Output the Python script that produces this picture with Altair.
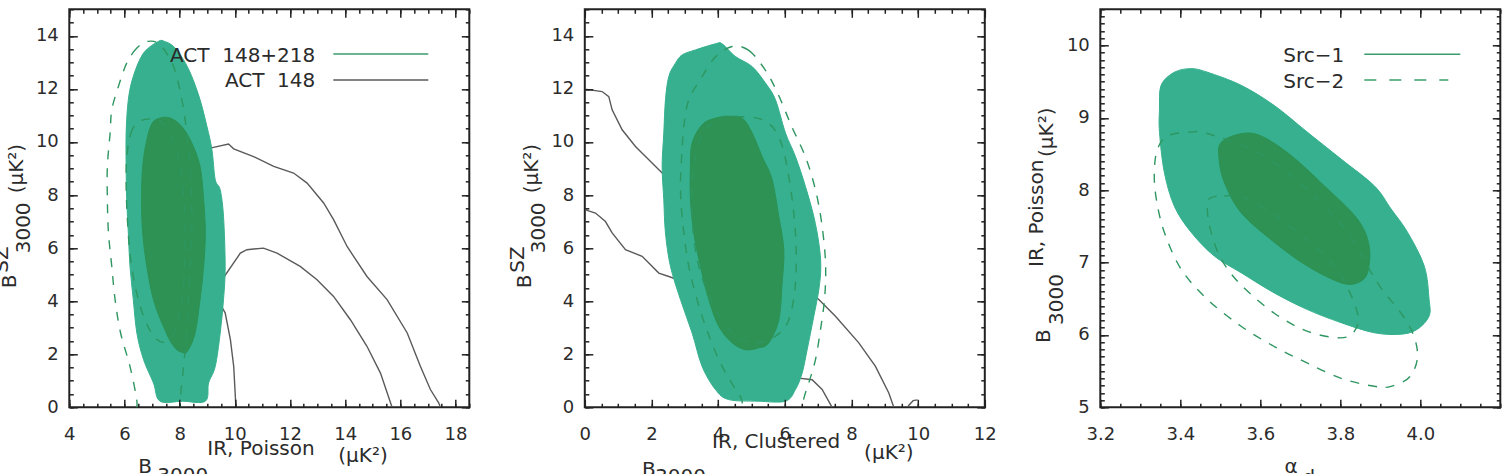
import altair as alt
import pandas as pd

FONT = "DejaVu Sans"
INK = "#222222"
TXT = "#2b2b2b"
LIGHT = "#36b08e"
DARK = "#2d9254"
DASHC = "#2e9660"
GREEN_LINE = "#3a9e6c"
GRAY = "#5a5a5a"

W, H = 400, 398

# ---------------- Panel 1 : B_SZ vs B_IR,Poisson ----------------
P1_XDOM = [4, 18.5]
P1_YDOM = [0, 15]
P1_XTICKS = [4, 6, 8, 10, 12, 14, 16, 18]
P1_YTICKS = [0, 2, 4, 6, 8, 10, 12, 14]

P1_FILL95_X = [7.23, 6.69, 6.32, 6.14, 6.06, 6.06, 6.08, 6.14, 6.20, 6.32, 6.45, 6.69, 7.05, 7.29, 8.10, 8.93,
               9.05, 9.29, 9.47, 9.59, 9.65, 9.59, 9.47, 9.29, 9.17, 8.99, 8.74, 8.44, 8.14, 7.78, 7.45]
P1_FILL95_Y = [13.79, 13.35, 12.47, 11.59, 10.34, 9.08, 7.82, 6.57, 5.31, 4.06, 2.80, 1.80, 0.92, 0.23, 0.23, 0.23,
               0.92, 1.54, 2.80, 4.06, 5.31, 7.19, 8.20, 8.58, 9.71, 10.58, 11.59, 12.47, 13.10, 13.60, 13.79]
P1_FILL68_X = [7.29, 7.00, 6.81, 6.66, 6.62, 6.66, 6.81, 7.05, 7.41, 7.78, 8.14, 8.32, 8.56, 8.74, 8.87, 8.93,
               8.87, 8.74, 8.44, 8.08, 7.66]
P1_FILL68_Y = [10.90, 10.70, 10.08, 9.08, 7.82, 6.57, 5.31, 4.06, 3.05, 2.30, 2.05, 2.18, 2.80, 4.06, 5.31, 6.57,
               7.82, 9.08, 9.96, 10.58, 10.90]
P1_DASH95_X = [6.85, 6.45, 6.08, 5.78, 5.54, 5.48, 5.38, 5.38, 5.42, 5.54, 5.66, 5.86, 6.20, 6.45, 6.50, 8.00,
               8.02, 8.14, 8.26, 8.32, 8.38, 8.44, 8.44, 8.38, 8.26, 8.08, 7.78, 7.29]
P1_DASH95_Y = [13.79, 13.54, 12.97, 12.09, 11.21, 10.34, 9.08, 7.82, 6.57, 5.31, 4.06, 2.80, 1.54, 0.23, -0.80, -0.80,
               0.23, 1.54, 2.80, 4.06, 5.31, 6.57, 7.82, 9.08, 10.34, 11.59, 12.84, 13.66]
P1_DASH68_X = [6.75, 6.30, 6.10, 6.06, 6.10, 6.20, 6.40, 6.70, 7.05, 7.40, 7.75, 8.00, 8.15, 8.20, 8.12, 7.90, 7.40]
P1_DASH68_Y = [10.85, 10.50, 9.60, 8.50, 7.20, 5.80, 4.50, 3.40, 2.70, 2.45, 2.70, 3.50, 4.80, 6.50, 8.20, 9.70, 10.70]
P1_ACT148_OUT_X = [8.60, 9.11, 9.77, 9.96, 10.68, 11.41, 12.13, 12.62, 13.22, 13.58, 14.07, 14.79, 15.52, 16.25,
                   16.73, 17.09, 17.39, 17.45]
P1_ACT148_OUT_Y = [9.80, 9.77, 9.92, 9.74, 9.45, 9.08, 8.83, 8.45, 7.70, 7.07, 6.06, 4.93, 4.06, 2.80,
                   1.54, 0.67, 0.17, 0.0]
P1_ACT148_IN_X = [10.04, 9.96, 9.84, 9.65, 9.35, 9.30, 9.62, 10.20, 10.44, 11.04, 11.53, 12.37, 12.98, 13.58,
                  14.19, 14.79, 15.28, 15.70]
P1_ACT148_IN_Y = [0.0, 1.54, 2.55, 3.56, 4.10, 4.60, 4.93, 5.81, 5.94, 6.00, 5.81, 5.31, 4.81, 4.18,
                  3.30, 2.30, 1.29, 0.0]
P1_LEGEND = ["ACT\u00a0\u00a0148+218", "ACT\u00a0\u00a0148"]
P1_XTITLE = ["B", "3000", "IR, Poisson", "(\u03bcK\u00b2)"]
P1_YTITLE = ["B", "SZ", "3000", "(\u03bcK\u00b2)"]

# ---------------- Panel 2 : B_SZ vs B_IR,Clustered ----------------
P2_XDOM = [0, 12]
P2_YDOM = [0, 15]
P2_XTICKS = [0, 2, 4, 6, 8, 10, 12]
P2_YTICKS = [0, 2, 4, 6, 8, 10, 12, 14]

P2_FILL95_X = [2.72, 2.92, 3.32, 3.92, 4.12, 4.52, 5.02, 5.42, 5.72, 6.02, 6.32, 6.62, 6.87, 7.02, 7.08, 7.02,
               6.87, 6.67, 6.52, 6.32, 6.02, 5.20, 4.32, 3.92, 3.52, 3.22, 2.87, 2.57, 2.42, 2.37, 2.32, 2.37,
               2.42, 2.52]
P2_FILL95_Y = [12.97, 13.28, 13.47, 13.70, 13.70, 13.22, 12.84, 12.22, 11.59, 10.34, 9.45, 8.32, 7.19, 6.19, 5.31,
               4.43, 3.43, 2.17, 1.29, 0.67, 0.23, 0.23, 0.29, 0.67, 1.54, 2.80, 4.06, 5.31, 6.57, 7.82, 9.08,
               10.34, 11.59, 12.47]
P2_FILL68_X = [3.92, 3.52, 3.22, 3.17, 3.17, 3.27, 3.47, 3.72, 4.02, 4.42, 4.82, 5.22, 5.52, 5.82, 5.92, 5.97,
               5.82, 5.62, 5.32, 5.02, 4.72, 4.32]
P2_FILL68_Y = [10.90, 10.65, 9.96, 9.08, 7.82, 6.57, 5.31, 4.06, 3.05, 2.43, 2.17, 2.24, 2.43, 3.30, 4.68, 5.94,
               7.19, 8.58, 9.45, 10.34, 10.90, 10.96]
P2_DASH95_X = [4.42, 4.92, 5.42, 5.80, 6.20, 6.60, 6.90, 7.10, 7.22, 7.20, 7.08, 6.92, 6.72, 6.55, 6.50, 4.75,
               4.72, 4.52, 4.02, 3.52, 3.12, 2.92, 2.87, 2.92, 2.97, 3.12, 3.52, 3.92]
P2_DASH95_Y = [13.60, 13.45, 12.70, 11.80, 10.60, 9.50, 8.30, 7.00, 5.50, 4.20, 3.00, 1.80, 0.92, 0.20, -0.80, -0.80,
               0.23, 0.67, 1.80, 3.43, 5.31, 7.19, 8.45, 9.71, 10.58, 11.59, 12.47, 13.20]
P2_DASH68_X = [4.02, 4.52, 5.32, 5.82, 6.12, 6.32, 6.32, 6.12, 5.72, 5.12, 4.52, 3.92, 3.42, 3.22, 3.27, 3.57]
P2_DASH68_Y = [10.90, 10.96, 10.84, 10.20, 8.70, 6.57, 4.68, 3.30, 2.68, 2.43, 2.68, 3.68, 5.31, 7.19, 9.08, 10.34]
P2_ACT148_A1_X = [0.0, 0.52, 0.72, 0.82, 1.12, 1.52, 1.92, 2.32, 2.60]
P2_ACT148_A1_Y = [11.99, 11.90, 11.71, 11.21, 10.46, 9.83, 9.33, 8.83, 8.60]
P2_ACT148_A2_X = [6.80, 7.02, 7.52, 8.22, 8.72, 9.12, 9.27]
P2_ACT148_A2_Y = [4.30, 4.06, 3.43, 2.43, 1.54, 0.54, 0.0]
P2_ACT148_B1_X = [0.0, 0.32, 0.62, 0.82, 1.22, 1.72, 1.92, 2.22, 2.52, 2.80]
P2_ACT148_B1_Y = [7.45, 7.32, 7.00, 6.57, 5.94, 5.69, 5.44, 5.06, 4.93, 4.80]
P2_ACT148_B2_X = [6.20, 6.42, 6.82, 7.12, 7.42]
P2_ACT148_B2_Y = [1.20, 1.10, 1.04, 0.67, 0.0]
P2_ACT148_C_X = [9.70, 9.85, 9.98]
P2_ACT148_C_Y = [0.05, 0.25, 0.28]
P2_XTITLE = ["B", "3000", "IR, Clustered", "(\u03bcK\u00b2)"]
P2_YTITLE = ["B", "SZ", "3000", "(\u03bcK\u00b2)"]

# ---------------- Panel 3 : B_IR,Poisson vs alpha_d ----------------
P3_XDOM = [3.2, 4.2]
P3_YDOM = [5, 10.5]
P3_XTICKS = [3.2, 3.4, 3.6, 3.8, 4.0]
P3_YTICKS = [5, 6, 7, 8, 9, 10]

P3_FILL95_X = [3.352, 3.385, 3.427, 3.468, 3.552, 3.635, 3.718, 3.802, 3.885, 3.927, 3.968, 4.010, 4.022, 4.022,
               3.993, 3.952, 3.885, 3.802, 3.718, 3.635, 3.552, 3.485, 3.427, 3.385, 3.360, 3.348, 3.348]
P3_FILL95_Y = [9.45, 9.63, 9.68, 9.63, 9.45, 9.17, 8.80, 8.43, 8.06, 7.74, 7.42, 6.95, 6.49, 6.26,
               6.08, 6.01, 6.03, 6.17, 6.35, 6.58, 6.86, 7.09, 7.42, 7.78, 8.25, 8.80, 9.12]
P3_FILL68_X = [3.502, 3.552, 3.602, 3.677, 3.760, 3.843, 3.872, 3.868, 3.843, 3.802, 3.718, 3.635, 3.552, 3.510, 3.497]
P3_FILL68_Y = [8.66, 8.78, 8.75, 8.48, 8.06, 7.60, 7.23, 6.86, 6.72, 6.72, 6.95, 7.28, 7.69, 8.11, 8.43]
P3_DASH95_X = [3.368, 3.420, 3.470, 3.600, 3.720, 3.820, 3.893, 3.968, 3.993, 3.975, 3.927, 3.885, 3.802, 3.718,
               3.635, 3.552, 3.468, 3.402, 3.360, 3.340, 3.335, 3.343]
P3_DASH95_Y = [8.75, 8.80, 8.78, 8.50, 8.00, 7.40, 6.72, 6.17, 5.75, 5.43, 5.29, 5.29, 5.40, 5.61,
               5.84, 6.12, 6.49, 6.91, 7.42, 7.88, 8.25, 8.57]
P3_DASH68_X = [3.472, 3.510, 3.560, 3.650, 3.740, 3.800, 3.843, 3.835, 3.800, 3.718, 3.635, 3.552, 3.502, 3.477, 3.468]
P3_DASH68_Y = [7.88, 7.92, 7.90, 7.60, 7.20, 6.84, 6.30, 6.05, 5.96, 6.05, 6.30, 6.69, 7.05, 7.42, 7.70]
P3_LEGEND = ["Src\u22121", "Src\u22122"]
P3_XTITLE = ["\u03b1", "d"]
P3_YTITLE = ["B", "3000", "IR, Poisson", "(\u03bcK\u00b2)"]


def steps(a, b, h):
    n = int(round((b - a) / h))
    return [round(a + k * h, 4) for k in range(n + 1)]


def frame(xs, ys):
    return pd.DataFrame({"x": xs, "y": ys, "i": list(range(len(xs)))})


def segments(*pairs):
    rows = []
    for k, (xs, ys) in enumerate(pairs):
        for j, (a, b) in enumerate(zip(xs, ys)):
            rows.append({"x": a, "y": b, "i": j, "seg": k})
    return pd.DataFrame(rows)


def text_layer(s, x, y, angle=0, size=20, align="left"):
    kw = dict(align=align, baseline="alphabetic", font=FONT, fontSize=size, color=TXT)
    if angle:
        kw["angle"] = angle
    return alt.Chart(pd.DataFrame({"t": [s]})).mark_text(**kw).encode(
        x=alt.value(x), y=alt.value(y), text=alt.Text("t:N"))


def legend_rule(x1, x2, y, color, dash=None):
    kw = dict(color=color, strokeWidth=1.6)
    if dash:
        kw["strokeDash"] = dash
    return alt.Chart(pd.DataFrame({"t": [0]})).mark_rule(**kw).encode(
        x=alt.value(x1), x2=alt.value(x2), y=alt.value(y))


def build_panel(xdom, ydom, xmaj, xmin, ymaj, ymin, xfmt, yfmt, data_layers, extra_layers, carrier):
    xsc = alt.Scale(domain=xdom, nice=False, zero=False)
    ysc = alt.Scale(domain=ydom, nice=False, zero=False)

    def enc(df, ax, ay):
        e = dict(x=alt.X("x:Q", scale=xsc, axis=ax), y=alt.Y("y:Q", scale=ysc, axis=ay),
                 order=alt.Order("i:Q"))
        if "seg" in df.columns:
            e["detail"] = alt.Detail("seg:N")
        return e

    lab_x = alt.Axis(orient="bottom", values=xmaj, format=xfmt, ticks=False, tickSize=0, domain=False,
                     grid=False, labelFont=FONT, labelFontSize=18, labelColor=TXT, labelPadding=18,
                     labelFlush=False, labelOverlap=False, title=None)
    lab_y = alt.Axis(orient="left", values=ymaj, format=yfmt, ticks=False, tickSize=0, domain=False,
                     grid=False, labelFont=FONT, labelFontSize=18, labelColor=TXT, labelPadding=11,
                     labelOverlap=False, title=None)

    def tick_axis(orient, vals, length):
        return alt.Axis(orient=orient, values=vals, offset=-length, tickSize=length, ticks=True,
                        labels=False, domain=False, grid=False, tickColor=INK, tickWidth=1.5,
                        title=None, zindex=2)

    axis_sets = [
        (lab_x, lab_y),
        (tick_axis("bottom", xmaj, 8), tick_axis("left", ymaj, 8)),
        (tick_axis("bottom", xmin, 4), tick_axis("left", ymin, 4)),
        (tick_axis("top", xmaj, 8), tick_axis("right", ymaj, 8)),
        (tick_axis("top", xmin, 4), tick_axis("right", ymin, 4)),
    ]
    layers = []
    for df, mk in data_layers:
        layers.append(alt.Chart(df).mark_line(clip=True, **mk).encode(**enc(df, None, None)))
    for ax, ay in axis_sets:
        layers.append(alt.Chart(carrier).mark_line(opacity=0).encode(**enc(carrier, ax, ay)))
    layers.extend(extra_layers)
    return alt.layer(*layers).resolve_axis(x="independent", y="independent").properties(width=W, height=H)


fill95 = dict(fill=LIGHT, stroke=LIGHT, strokeWidth=1, interpolate="cardinal-closed")
fill68 = dict(fill=DARK, stroke=DARK, strokeWidth=1, interpolate="cardinal-closed")
dashed = dict(stroke=DASHC, strokeWidth=1.4, strokeDash=[9, 9], interpolate="cardinal-closed")
grayline = dict(stroke=GRAY, strokeWidth=1.4)

# ---- panel 1
p1_f95 = frame(P1_FILL95_X, P1_FILL95_Y)
p1 = build_panel(
    P1_XDOM, P1_YDOM, P1_XTICKS, steps(4, 18.5, 0.5), P1_YTICKS, steps(0, 15, 0.5), "d", "d",
    [
        (segments((P1_ACT148_OUT_X, P1_ACT148_OUT_Y), (P1_ACT148_IN_X, P1_ACT148_IN_Y)), grayline),
        (p1_f95, fill95),
        (frame(P1_FILL68_X, P1_FILL68_Y), fill68),
        (frame(P1_DASH95_X, P1_DASH95_Y), dashed),
        (frame(P1_DASH68_X, P1_DASH68_Y), dashed),
    ],
    [
        text_layer(P1_LEGEND[0], 246, 52.4, align="right"),
        text_layer(P1_LEGEND[1], 246, 78, align="right"),
        legend_rule(264, 359, 44.7, GREEN_LINE),
        legend_rule(264, 359, 70.7, GRAY),
        text_layer(P1_XTITLE[0], 69, 464),
        text_layer(P1_XTITLE[1], 88, 473),
        text_layer(P1_XTITLE[2], 138, 446),
        text_layer(P1_XTITLE[3], 269, 453),
        text_layer(P1_YTITLE[0], -53.5, 279, angle=270),
        text_layer(P1_YTITLE[1], -61, 263.5, angle=270),
        text_layer(P1_YTITLE[2], -39.5, 244, angle=270),
        text_layer(P1_YTITLE[3], -46.5, 184, angle=270),
    ],
    p1_f95,
)

# ---- panel 2
p2_f95 = frame(P2_FILL95_X, P2_FILL95_Y)
p2 = build_panel(
    P2_XDOM, P2_YDOM, P2_XTICKS, steps(0, 12, 0.5), P2_YTICKS, steps(0, 15, 0.5), "d", "d",
    [
        (segments((P2_ACT148_A1_X, P2_ACT148_A1_Y), (P2_ACT148_A2_X, P2_ACT148_A2_Y),
                  (P2_ACT148_B1_X, P2_ACT148_B1_Y), (P2_ACT148_B2_X, P2_ACT148_B2_Y),
                  (P2_ACT148_C_X, P2_ACT148_C_Y)), grayline),
        (p2_f95, fill95),
        (frame(P2_FILL68_X, P2_FILL68_Y), fill68),
        (frame(P2_DASH95_X, P2_DASH95_Y), dashed),
        (frame(P2_DASH68_X, P2_DASH68_Y), dashed),
    ],
    [
        text_layer(P2_XTITLE[0], 57.3, 467),
        text_layer(P2_XTITLE[1], 70.3, 474),
        text_layer(P2_XTITLE[2], 127.3, 439),
        text_layer(P2_XTITLE[3], 279.3, 450),
        text_layer(P2_YTITLE[0], -53.5, 279, angle=270),
        text_layer(P2_YTITLE[1], -61, 263.5, angle=270),
        text_layer(P2_YTITLE[2], -39.5, 244, angle=270),
        text_layer(P2_YTITLE[3], -46.5, 184, angle=270),
    ],
    p2_f95,
)

# ---- panel 3
p3_f95 = frame(P3_FILL95_X, P3_FILL95_Y)
p3 = build_panel(
    P3_XDOM, P3_YDOM, P3_XTICKS, steps(3.2, 4.2, 0.05), P3_YTICKS, steps(5, 10.5, 0.1), ".1f", "d",
    [
        (p3_f95, fill95),
        (frame(P3_FILL68_X, P3_FILL68_Y), fill68),
        (frame(P3_DASH95_X, P3_DASH95_Y), dashed),
        (frame(P3_DASH68_X, P3_DASH68_Y), dashed),
    ],
    [
        text_layer(P3_LEGEND[0], 244, 52.4, align="right"),
        text_layer(P3_LEGEND[1], 244, 79, align="right"),
        legend_rule(264, 360, 45, GREEN_LINE),
        legend_rule(264, 348, 70.7, GREEN_LINE, dash=[12, 13]),
        text_layer(P3_XTITLE[0], 184.3, 464),
        text_layer(P3_XTITLE[1], 202.3, 475),
        text_layer(P3_YTITLE[0], -50.7, 333.7, angle=270),
        text_layer(P3_YTITLE[1], -37.7, 315.7, angle=270),
        text_layer(P3_YTITLE[2], -57.7, 257.7, angle=270),
        text_layer(P3_YTITLE[3], -47.7, 147.7, angle=270),
    ],
    p3_f95,
)

chart = alt.hconcat(p1, p2, p3, spacing=115.5, bounds="flush").properties(
    autosize=alt.AutoSizeParams(type="none"),
    padding={"left": 69.3, "top": 9.3, "right": 1512 - 69.3, "bottom": 474 - 9.3},
    background="white",
).configure_view(stroke=INK, strokeWidth=2)

chart.save("out.html", embed_options={"renderer": "svg", "actions": False})
